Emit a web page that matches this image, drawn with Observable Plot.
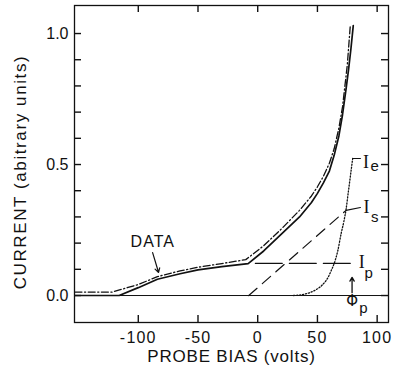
<!DOCTYPE html>
<html><head><meta charset="utf-8">
<script src="https://cdn.jsdelivr.net/npm/d3@7"></script>
<script src="https://cdn.jsdelivr.net/npm/@observablehq/plot@0.6"></script>
<style>
html,body{margin:0;padding:0;background:#fff;}
</style></head><body><div id="chart"></div>
<script>
// Measured probe data (solid)
const dataV = [-153, -116, -100, -84, -65, -50, -30, -8, 5, 20, 35, 45, 50, 55, 60, 64, 68, 71, 74, 76, 78, 80];
const dataI = [0, 0, 0.03, 0.062, 0.083, 0.098, 0.11, 0.122, 0.17, 0.235, 0.30, 0.355, 0.39, 0.43, 0.475, 0.535, 0.61, 0.69, 0.79, 0.86, 0.94, 1.03];
// Sum of components (dash-dot)
const sumV = [-153, -122, -100, -84, -65, -50, -30, -10, 5, 20, 35, 45, 50, 55, 60, 64, 68, 71, 73, 75, 77.5];
const sumI = [0.013, 0.013, 0.042, 0.072, 0.094, 0.108, 0.122, 0.137, 0.19, 0.255, 0.325, 0.38, 0.415, 0.455, 0.505, 0.56, 0.64, 0.72, 0.8, 0.88, 1.03];
// Electron current Ie (dotted)
const ieV = [30, 40, 48, 54, 59, 62, 64, 67, 70, 72, 74, 76, 78, 79.5];
const ieI = [0, 0.006, 0.02, 0.04, 0.07, 0.1, 0.122, 0.17, 0.24, 0.28, 0.33, 0.4, 0.47, 0.523];
// Secondary current Is (dashed)
const isV = [-7.5, 74];
const isI = [0, 0.325];
// Ion/plasma current Ip (long dash)
const ipV = [-2, 78];
const ipI = [0.123, 0.123];
// Leaders to labels
const ieLeadV = [79.5, 86], ieLeadI = [0.523, 0.523];
const isLeadV = [74, 86], isLeadI = [0.325, 0.336];

const xTicks = [-100, -50, 0, 50, 100];
const yLabelTicks = [0, 0.5, 1.0];
const yTicks = [0, 0.1, 0.2, 0.3, 0.4, 0.5, 0.6, 0.7, 0.8, 0.9, 1.0];

const xLabel = "PROBE BIAS (volts)";
const yLabel = "CURRENT (abitrary units)";

const pts = (V, I) => V.map((v, k) => ({v, i: I[k]}));
const ink = "#111";

const W = 394, H = 378, mL = 74, mR = 6, mT = 5, mB = 56;
const plotW = W - mL - mR, plotH = H - mT - mB, tick = 7;
const xDom = [-153.4, 109.5], yDom = [-0.103, 1.107];

const chart = Plot.plot({
  width: W, height: H,
  marginLeft: mL, marginRight: mR, marginTop: mT, marginBottom: mB,
  style: {fontFamily: "'Liberation Sans', Arial, sans-serif", fontSize: "16px", color: ink, background: "#fff", overflow: "visible"},
  x: {domain: xDom, label: null},
  y: {domain: yDom, label: null},
  marks: [
    Plot.frame({stroke: ink, strokeWidth: 1.3}),
    Plot.axisX(xTicks, {anchor: "bottom", tickSize: 0, tickPadding: 9, tickFormat: d => String(d), label: null, fontSize: 16}),
    Plot.axisY(yLabelTicks, {anchor: "left", tickSize: 0, tickPadding: 6, tickFormat: ".1f", label: null, fontSize: 16}),
    // inward tick marks on all four sides
    Plot.ruleX(xTicks, {x: d => d, insetTop: plotH - tick, stroke: ink, strokeWidth: 1.4}),
    Plot.ruleX(xTicks, {x: d => d, insetBottom: plotH - tick, stroke: ink, strokeWidth: 1.4}),
    Plot.ruleY(yTicks, {y: d => d, insetRight: plotW - tick, stroke: ink, strokeWidth: 1.4}),
    Plot.ruleY(yTicks, {y: d => d, insetLeft: plotW - tick, stroke: ink, strokeWidth: 1.4}),
    Plot.text([xLabel], {frameAnchor: "bottom", dy: 34, lineAnchor: "middle", textAnchor: "middle", text: d => d, fontSize: 17, fill: ink}),
    Plot.text([yLabel], {frameAnchor: "left", dx: -54, dy: 8, rotate: -90, lineAnchor: "middle", textAnchor: "middle", text: d => d, fontSize: 17, fill: ink}),
    Plot.ruleY([0], {stroke: ink, strokeWidth: 1}),
    Plot.line(pts(dataV, dataI), {x: "v", y: "i", stroke: ink, strokeWidth: 1.7}),
    Plot.line(pts(sumV, sumI), {x: "v", y: "i", stroke: ink, strokeWidth: 1.3, strokeDasharray: "7,2.5,1.2,2.5"}),
    Plot.line(pts(ieV, ieI), {x: "v", y: "i", stroke: ink, strokeWidth: 1.3, strokeDasharray: "1.2,1.8", curve: "monotone-x"}),
    Plot.line(pts(isV, isI), {x: "v", y: "i", stroke: ink, strokeWidth: 1.2, strokeDasharray: "11,7"}),
    Plot.line(pts(ipV, ipI), {x: "v", y: "i", stroke: ink, strokeWidth: 1.2, strokeDasharray: "27,7"}),
    Plot.line(pts(ieLeadV, ieLeadI), {x: "v", y: "i", stroke: ink, strokeWidth: 1.1}),
    Plot.line(pts(isLeadV, isLeadI), {x: "v", y: "i", stroke: ink, strokeWidth: 1.1}),
    // DATA label with arrow
    Plot.text([{v: -87.9, i: 0.206, t: "DATA"}], {x: "v", y: "i", text: "t", fontSize: 16, fill: ink}),
    Plot.arrow([{x1: -88, y1: 0.164, x2: -83, y2: 0.088}], {x1: "x1", y1: "y1", x2: "x2", y2: "y2", stroke: ink, strokeWidth: 1.2, headLength: 6}),
    // Phi_p arrow
    Plot.arrow([{x1: 79, y1: 0.011, x2: 79, y2: 0.069}], {x1: "x1", y1: "y1", x2: "x2", y2: "y2", stroke: ink, strokeWidth: 1.3, headLength: 5}),
    // Component labels
    Plot.text([{v: 90.6, i: 0.508}, {v: 91, i: 0.336}, {v: 87, i: 0.126}], {x: "v", y: "i", text: d => "I", fontFamily: "'Liberation Serif', serif", fontSize: 18, fill: ink}),
    Plot.text([{v: 98, i: 0.492, t: "e"}, {v: 98, i: 0.298, t: "s"}, {v: 93, i: 0.084, t: "p"}, {v: 88.5, i: -0.05, t: "p"}], {x: "v", y: "i", text: "t", fontSize: 15, fill: ink}),
    Plot.text([{v: 79, i: -0.022, t: "Φ"}], {x: "v", y: "i", text: "t", fontFamily: "'DejaVu Sans', sans-serif", fontSize: 15, fill: ink})
  ]
});
// lettering spacing like the hand-lettered original
chart.querySelectorAll("text").forEach(t => {
  const s = t.textContent;
  if (s === xLabel) t.style.letterSpacing = "0.8px";
  else if (s === yLabel) t.style.letterSpacing = "1.6px";
  else if (s === "DATA") t.style.letterSpacing = "1px";
  else if (/^-?\d+$/.test(s)) t.style.letterSpacing = "1.2px";
});
document.getElementById("chart").appendChild(chart);
</script>
</body></html>
